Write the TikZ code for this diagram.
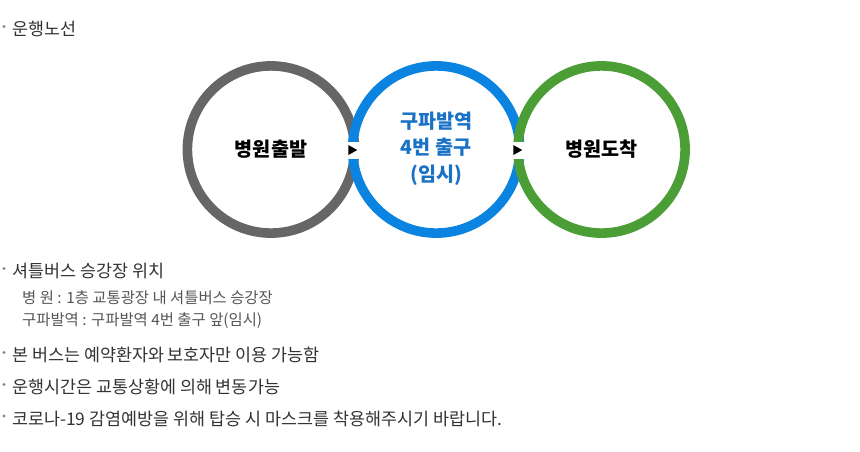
\documentclass[tikz,border=0pt]{standalone}
\usepackage{fontspec}
\setmainfont{Noto Sans CJK KR}
\definecolor{ringgray}{HTML}{666666}
\definecolor{ringblue}{HTML}{0A84E0}
\definecolor{ringgreen}{HTML}{4A9E35}
\definecolor{midblue}{HTML}{1A72C6}
\definecolor{maintext}{HTML}{333333}
\definecolor{subtext}{HTML}{555555}
\definecolor{dotgray}{HTML}{888888}
\tikzset{
  ring/.style={line width=9.6pt},
  mainline/.style={anchor=west, inner sep=0pt, text=maintext, font=\fontsize{17.4}{20}\selectfont},
  subline/.style={anchor=west, inner sep=0pt, text=subtext, font=\fontsize{15.4}{18}\selectfont},
  stoplabel/.style={inner sep=0pt, font=\bfseries\fontsize{19.6}{26.5}\selectfont},
  bulletdot/.style={fill=dotgray, draw=none},
  gapbox/.style={fill=white, draw=none},
  arrowtri/.style={fill=black, draw=none}
}
\begin{document}
\begin{tikzpicture}[x=1pt,y=-1pt]
\useasboundingbox (0,0) rectangle (860,451);
% title
\fill[bulletdot] (4,26.5) circle (1.7);
\node[mainline] (t1) at (12,29) {운행노선};
% rings
\coordinate (c1) at (271,149.5);
\coordinate (c2) at (436.2,149.5);
\coordinate (c3) at (601.5,149.5);
\draw[ring, ringgray] (c1) circle (83.6);
\draw[ring, ringblue] (c2) circle (83.6);
\draw[ring, ringgreen] (c3) circle (83.6);
% gaps and arrows
\fill[gapbox] (342.5,141.5) rectangle (365,158.5);
\fill[gapbox] (507.5,141.5) rectangle (530,158.5);
\fill[arrowtri] (348.3,145) -- (357.3,150) -- (348.3,155) -- cycle;
\fill[arrowtri] (513.3,145) -- (522.3,150) -- (513.3,155) -- cycle;
% labels
\node[stoplabel, text=black] (s1) at (c1) {병원출발};
\node[stoplabel, text=midblue, align=center] (s2) at (436.2,148.5) {구파발역\\4번 출구\\(임시)};
\node[stoplabel, text=black] (s3) at (c3) {병원도착};
% notes
\fill[bulletdot] (4,268.5) circle (1.7);
\node[mainline] (n1) at (12,271) {셔틀버스 승강장 위치};
\node[subline] (n1a) at (22,297.5) {병 원 : 1층 교통광장 내 셔틀버스 승강장};
\node[subline] (n1b) at (22,321) {구파발역 : 구파발역 4번 출구 앞(임시)};
\fill[bulletdot] (4,352.5) circle (1.7);
\node[mainline] (n2) at (12,355) {본 버스는 예약환자와 보호자만 이용 가능함};
\fill[bulletdot] (4,384.5) circle (1.7);
\node[mainline] (n3) at (12,387) {운행시간은 교통상황에 의해 변동가능};
\fill[bulletdot] (4,416) circle (1.7);
\node[mainline] (n4) at (12,418.5) {코로나-19 감염예방을 위해 탑승 시 마스크를 착용해주시기 바랍니다.};
\end{tikzpicture}
\end{document}
